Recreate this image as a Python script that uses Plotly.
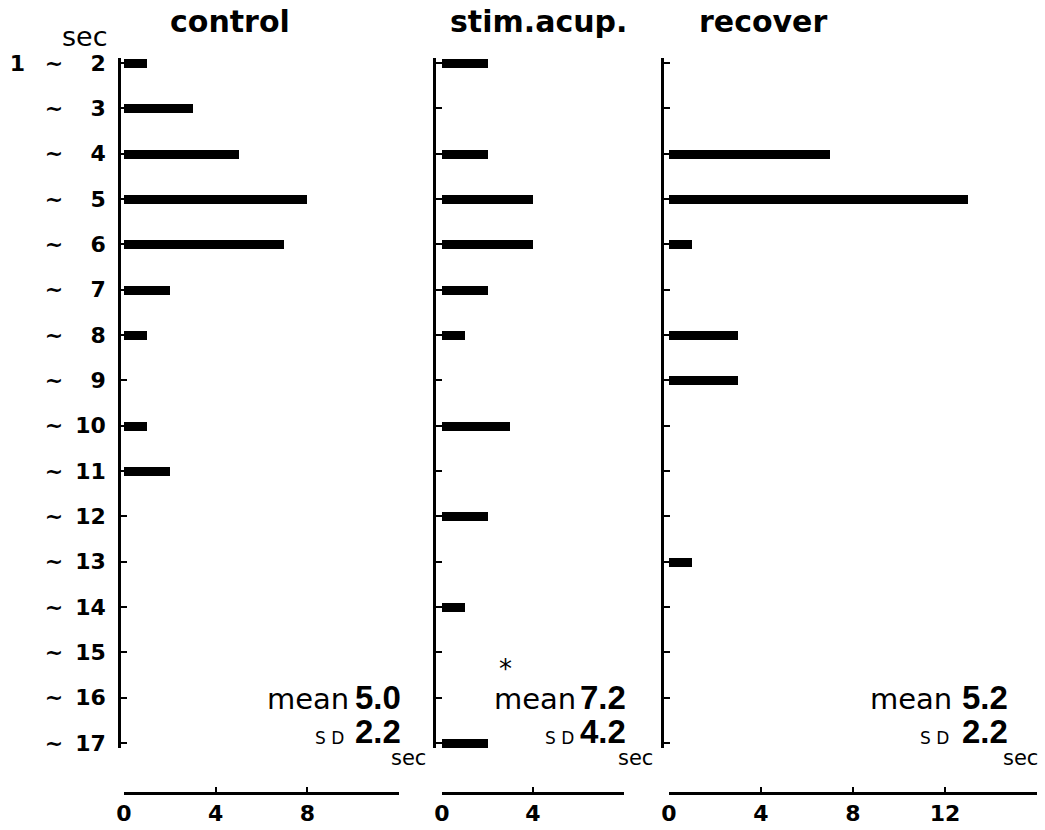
import plotly.graph_objects as go

# ---------------- data ----------------
rows = list(range(2, 18))
row_labels = ["1\u00a0\u00a0\u2009~\u00a0\u00a0\u00a0\u2009" + "2"] + \
             ["~\u00a0\u00a0\u00a0\u2009" + str(k) if k < 10 else "~\u00a0\u2009" + str(k) for k in range(3, 18)]

panels = ["control", "stim.acup.", "recover"]
control = [1, 3, 5, 8, 7, 2, 1, 0, 1, 2, 0, 0, 0, 0, 0, 0]
stim_acup = [2, 0, 2, 4, 4, 2, 1, 0, 3, 0, 2, 0, 1, 0, 0, 2]
recover = [0, 0, 7, 13, 1, 0, 3, 3, 0, 0, 0, 1, 0, 0, 0, 0]
series = [control, stim_acup, recover]

means = ["5.0", "7.2", "5.2"]
sds = ["2.2", "4.2", "2.2"]
significance = ["", "*", ""]

x_ranges = [[0, 12], [0, 8], [0, 16]]
x_tickvals = [[0, 4, 8, 12], [0, 4, 8], [0, 4, 8, 12, 16]]
x_ticktext = [["0", "4", "8", ""], ["0", "4", ""], ["0", "4", "8", "12", ""]]

# ---------------- layout geometry (pixels) ----------------
W, H = 1045, 830
def px(x):
    return x / W
def py(y):
    return 1 - y / H

x_domains_px = [(124, 399), (442, 624), (669, 1037)]
yaxis_pos_px = [119, 434, 662]
row_top_px, row_bot_px = 63, 743
pad = 0.12
unit = (row_bot_px - row_top_px) / 15
y_dom = [py(row_bot_px + pad * unit), py(row_top_px - pad * unit)]
xaxis_y_px = 793

title_x_px = [230, 538, 763]
stat_right_px = [403, 628, 1010]
mean_right_px = [351, 578, 954]
sd_right_px = [346, 576, 951]
sec_right_px = [428, 655, 1040]

BOLD = "DejaVu Sans"
NUM = "Liberation Sans, Arial, sans-serif"

fig = go.Figure()
layout = dict(
    width=W, height=H, margin=dict(l=0, r=0, t=0, b=0, autoexpand=False),
    paper_bgcolor="white", plot_bgcolor="white", showlegend=False,
    bargap=0, template="none",
)

annotations = []
for i in range(3):
    xa = "x" if i == 0 else f"x{i+1}"
    ya = "y" if i == 0 else f"y{i+1}"
    fig.add_trace(go.Bar(
        x=series[i], y=rows, orientation="h", width=0.2,
        marker=dict(color="black", line=dict(width=0)),
        xaxis=xa, yaxis=ya, hoverinfo="skip",
    ))
    xkey = "xaxis" if i == 0 else f"xaxis{i+1}"
    ykey = "yaxis" if i == 0 else f"yaxis{i+1}"
    layout[xkey] = dict(
        domain=[px(x_domains_px[i][0]), px(x_domains_px[i][1])],
        range=x_ranges[i], anchor="free", position=py(xaxis_y_px),
        showline=True, linecolor="black", linewidth=2.5,
        ticks="inside", ticklen=5, tickwidth=2, tickcolor="black",
        tickvals=x_tickvals[i], ticktext=x_ticktext[i],
        tickfont=dict(family=BOLD, size=22, color="black", weight="bold"),
        ticklabelstandoff=0, automargin=False,
        showgrid=False, zeroline=False, fixedrange=True,
    )
    layout[ykey] = dict(
        domain=y_dom, range=[17 + pad, 2 - pad], anchor="free",
        position=px(yaxis_pos_px[i]),
        showline=True, linecolor="black", linewidth=2.5,
        ticks="inside", ticklen=6, tickwidth=2, tickcolor="black",
        tickvals=rows, ticktext=row_labels, showticklabels=(i == 0),
        tickfont=dict(family=BOLD, size=22, color="black", weight="bold"),
        ticklabelstandoff=8, automargin=False,
        showgrid=False, zeroline=False, fixedrange=True,
    )
    # panel title
    annotations.append(dict(
        text=panels[i], x=px(title_x_px[i]), y=py(21), xref="paper", yref="paper",
        showarrow=False, xanchor="center", yanchor="middle",
        font=dict(family=BOLD, size=30, color="black", weight="bold"),
    ))
    # statistics
    annotations.append(dict(
        text="mean", x=px(mean_right_px[i]), y=py(699), xref="paper", yref="paper",
        showarrow=False, xanchor="right", yanchor="middle",
        font=dict(family="DejaVu Sans", size=29, color="black"),
    ))
    annotations.append(dict(
        text=means[i], x=px(stat_right_px[i]), y=py(697), xref="paper", yref="paper",
        showarrow=False, xanchor="right", yanchor="middle",
        font=dict(family=NUM, size=33, color="black", weight="bold"),
    ))
    annotations.append(dict(
        text="S D", x=px(sd_right_px[i]), y=py(738), xref="paper", yref="paper",
        showarrow=False, xanchor="right", yanchor="middle",
        font=dict(family="DejaVu Sans", size=17, color="black"),
    ))
    annotations.append(dict(
        text=sds[i], x=px(stat_right_px[i]), y=py(731), xref="paper", yref="paper",
        showarrow=False, xanchor="right", yanchor="middle",
        font=dict(family=NUM, size=33, color="black", weight="bold"),
    ))
    annotations.append(dict(
        text="sec", x=px(sec_right_px[i]), y=py(758), xref="paper", yref="paper",
        showarrow=False, xanchor="right", yanchor="middle",
        font=dict(family="DejaVu Sans", size=21, color="black"),
    ))
    if significance[i]:
        annotations.append(dict(
            text=significance[i], x=px(505), y=py(669), xref="paper", yref="paper",
            showarrow=False, xanchor="center", yanchor="middle",
            font=dict(family="DejaVu Sans", size=26, color="black"),
        ))

# unit label at top-left
annotations.append(dict(
    text="sec", x=px(85), y=py(36), xref="paper", yref="paper",
    showarrow=False, xanchor="center", yanchor="middle",
    font=dict(family="DejaVu Sans", size=27, color="black"),
))

layout["annotations"] = annotations
fig.update_layout(**layout)
fig.write_html("out.html")
